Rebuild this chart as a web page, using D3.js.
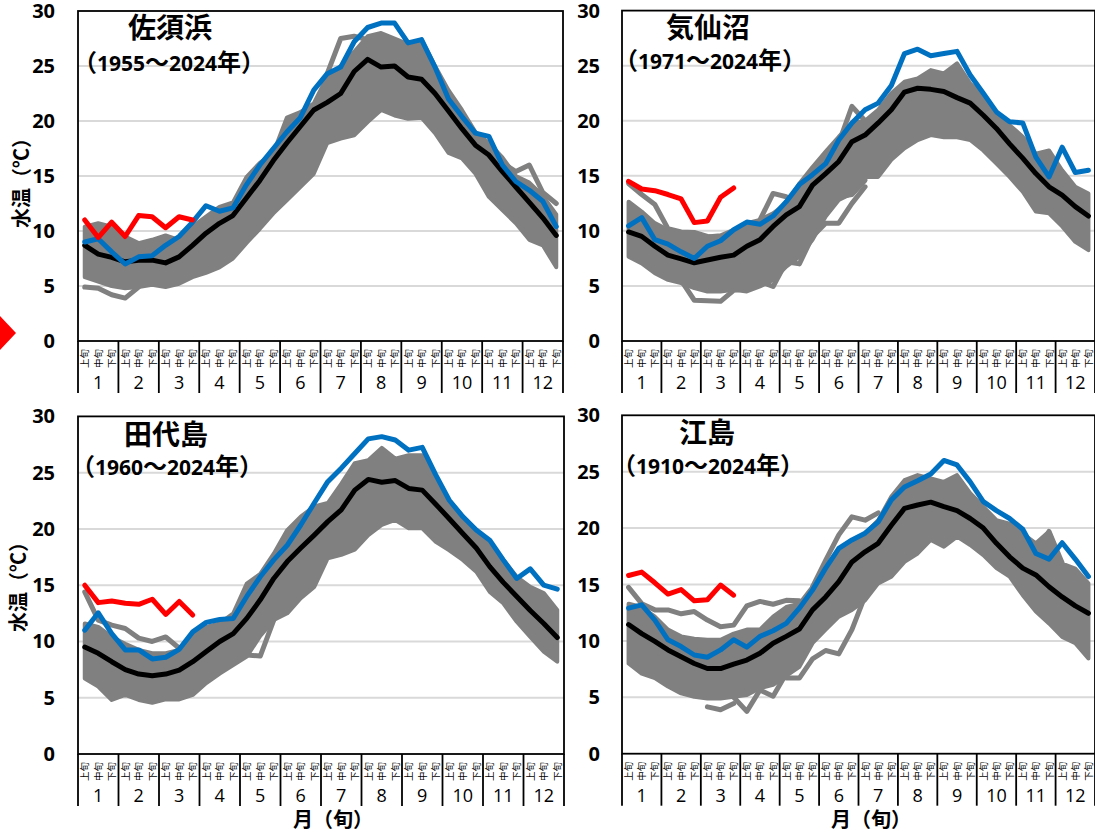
<!DOCTYPE html>
<html>
<head>
<meta charset="utf-8">
<script src="https://cdn.jsdelivr.net/npm/d3@7"></script>
<style>
  html, body { margin: 0; padding: 0; background: #fff; overflow: hidden; }
  svg { display: block; }
</style>
</head>
<body>
<script>
var months = ["1","2","3","4","5","6","7","8","9","10","11","12"];
var decades = ["上旬","中旬","下旬"];
var yTicks = [0,5,10,15,20,25,30];

// 佐須浜
var sasuYears = ["1955","2024"];
var sasuLatest = [9.0,9.3,8.1,7.0,7.65,7.75,8.7,9.5,10.8,12.3,11.8,12.1,14.2,16,17.5,19,20.3,22.8,24.3,24.9,27.2,28.5,28.9,28.9,27.1,27.4,24.9,22,20.4,18.9,18.6,16,14.5,13.7,12.7,10.4];
var sasuMean = [8.7,7.9,7.6,7.2,7.35,7.35,7.1,7.65,8.7,9.8,10.7,11.4,13,14.6,16.4,18,19.5,21,21.7,22.5,24.5,25.6,24.9,25,24,23.8,22.5,20.9,19.3,17.8,16.9,15.4,14,12.6,11.2,9.6];
var sasuNow = [11.0,9.4,10.8,9.5,11.4,11.3,10.3,11.3,11.0];
var sasuHigh = [10.4,10.7,10.4,9.5,8.9,9.2,9.6,9.2,10.4,11.3,12.2,12.6,14.9,16.2,17.1,20.3,20.8,21.6,24,25,26.3,27.7,28,27.5,27,27.4,25,22.8,21,19,18,16.7,15,14.4,13.2,11.5];
var sasuLow = [5.8,5.4,5,4.8,4.9,5.1,4.9,5.2,5.8,6.2,6.7,7.5,8.9,10.2,11.6,12.8,14,15.2,18,18.4,18.7,19.9,21,20.5,20.2,20.3,18.9,17.1,16.6,15.2,13.1,11.9,10.7,9.2,8.7,6.7];
var sasuOdd = [[0,[4.9,4.8,4.2,3.9,4.9]],[18,[24.3,27.5,27.7,27.4]],[31,[16.2,15.4,16,13.5,12.5]]];

// 気仙沼
var kesenYears = ["1971","2024"];
var kesenLatest = [10.45,11.2,9.2,8.8,8.1,7.5,8.6,9.1,10.1,10.8,10.6,11.35,12.65,14.2,15.1,16.1,18.25,19.8,21,21.6,23.2,26.1,26.5,25.9,26.1,26.3,24.15,22.5,20.8,19.9,19.8,16.7,14.9,17.6,15.3,15.5];
var kesenMean = [9.9,9.5,8.6,7.8,7.45,7.1,7.35,7.6,7.8,8.6,9.2,10.4,11.45,12.2,14.15,15.2,16.3,18.1,18.7,19.8,21,22.6,22.95,22.85,22.65,22.1,21.6,20.5,19.3,17.9,16.6,15.2,14,13.25,12.2,11.35];
var kesenNow = [14.5,13.8,13.65,13.3,12.9,10.75,10.9,13.05,13.9];
var kesenHigh = [12.65,11.75,10.7,10.1,9.8,9.6,9.5,9.6,10.1,10.7,11,11.6,12.5,14.3,15.8,17.2,18.55,19.8,20,21,22.5,23.55,23.85,24.6,24.3,25.2,23.4,22.2,20.7,19.6,18.55,17,17.3,15.5,14,13.4];
var kesenLow = [7.65,7.05,6.15,5.55,5.25,4.8,4.5,4.5,4.65,4.5,4.95,5.55,6.75,7.65,9.2,11.3,12.8,13.4,14.9,14.9,16.45,17.5,18.25,18.7,18.5,18.5,18.25,17.3,16.1,14.9,13.55,11.75,11.6,10.4,9,8.25];
var kesenOdd = [[0,[14.3,13.3,12.4,10.2,9.9,9.85,9.5,9.3]],[4,[5.5,3.7,3.65,3.6,4.6,4.75]],[10,[11,13.4,13.1,12.2]],[10,[5.4,4.95,7.2,7.0,9.5,10.7,10.7,12.5,14]],[13,[8.3,10.7,12.5,13.1,13.3,14.6]],[16,[18,21.3,20]]];

// 田代島
var tashiroYears = ["1960","2024"];
var tashiroLatest = [11.0,12.55,10.7,9.25,9.25,8.45,8.6,9.3,10.85,11.7,11.95,12.05,14,15.75,17.25,18.55,20.35,22.3,24.2,25.4,26.7,28,28.2,27.9,27,27.25,24.8,22.55,21.1,19.9,19,17.25,15.6,16.45,15,14.65];
var tashiroMean = [9.5,8.95,8.2,7.5,7.1,6.95,7.1,7.45,8.2,9.1,10,10.7,12.05,13.7,15.6,17.1,18.3,19.45,20.65,21.7,23.45,24.4,24.15,24.3,23.6,23.45,22.2,20.9,19.6,18.3,16.65,15.25,14,12.75,11.6,10.35];
var tashiroNow = [15,13.45,13.6,13.4,13.3,13.75,12.4,13.55,12.35];
var tashiroHigh = [11.6,11.3,10.4,9.8,9.25,8.95,8.95,9.25,10.55,11.3,11.6,12.5,15.15,16,17.8,19.9,21.1,22,22.3,24,25.85,26.1,27.2,26.25,26.55,26.55,24.35,22.55,21.1,19.9,18.7,17.25,15.75,14.85,14.3,12.8];
var tashiroLow = [6.7,6,4.8,5.25,4.8,4.55,4.85,4.85,5.25,6.3,7.15,7.9,8.65,10.5,11.9,12.5,13.85,14.85,17.4,17.7,18.15,19.45,20.35,20.8,20.05,20.05,18.85,18.1,17.25,16.2,14.4,13.4,11.75,10.4,9.1,8.2];
var tashiroOdd = [[0,[14.4,11.9,11.45,11.15,10.3,10,10.4,9.4]],[11,[8.9,8.8,8.7,11.9]]];

// 江島
var eshimaYears = ["1910","2024"];
var eshimaLatest = [12.9,13.2,11.85,10.1,9.5,8.75,8.55,9.2,10.1,9.45,10.4,10.9,11.55,12.9,14.5,16.45,18.2,18.95,19.55,20.55,22.5,23.65,24.2,24.8,26,25.6,24.1,22.35,21.55,20.85,19.9,17.75,17.25,18.7,17.25,15.7];
var eshimaMean = [11.45,10.65,9.95,9.2,8.6,8,7.55,7.55,7.95,8.3,8.9,9.8,10.4,11.05,12.75,13.9,15.25,17,17.9,18.65,20.25,21.75,22.05,22.3,21.9,21.55,20.85,20,18.65,17.45,16.45,15.85,14.8,13.9,13.1,12.45];
var eshimaNow = [15.8,16.1,15.15,14.15,14.55,13.55,13.65,14.95,14.05];
var eshimaHigh = [13.3,13,12.15,11,10.4,10.2,10.1,10.1,10.65,11,11,12.15,13,13.3,14.8,16.3,18,18.9,19.5,20.7,22.8,24.25,24.7,24.4,24.1,24.7,23.1,21.9,20.7,20.4,19.5,18.65,19.7,16.85,16.4,15.1];
var eshimaLow = [8,7.1,6.7,5.95,5.35,5.05,4.9,4.9,5.05,5.2,5.8,6.1,6.9,7.7,9.8,11,12.15,12.75,13.6,15.1,15.7,17,17.75,18.95,18.35,19.25,18.5,17.6,16.45,15.7,14.05,12.6,11.55,10.35,9.8,8.45];
var eshimaOdd = [[0,[14.75,13.3,12.75,12.75,12.4,12.6,11.85,11.25,11.4,13.1,13.5,13.25,13.6,13.55]],[14,[14.8,17.15,19.4,21,20.7,21.35]],[6,[4.15,3.9,4.45]],[8,[5,3.75,5.65,5.1,7.1]],[12,[6.7,6.7,8.4,9.15,8.85,11,14]],[30,[18,17.5,19.7,16.9]]];

var panels = [
  {title:"佐須浜", years:sasuYears, latest:sasuLatest, mean:sasuMean, now:sasuNow, high:sasuHigh, low:sasuLow, odd:sasuOdd,
   left:78, right:563, top:11, bottom:341, labelX:55, titleX:170, titleY:38, subX:73, subY:71, yTitle:[22,178]},
  {title:"気仙沼", years:kesenYears, latest:kesenLatest, mean:kesenMean, now:kesenNow, high:kesenHigh, low:kesenLow, odd:kesenOdd,
   left:622, right:1095, top:10.6, bottom:341, labelX:600, titleX:708, titleY:38, subX:614, subY:69},
  {title:"田代島", years:tashiroYears, latest:tashiroLatest, mean:tashiroMean, now:tashiroNow, high:tashiroHigh, low:tashiroLow, odd:tashiroOdd,
   left:78, right:564, top:416.4, bottom:754, labelX:55, titleX:166, titleY:445, subX:71, subY:475, yTitle:[19,582]},
  {title:"江島", years:eshimaYears, latest:eshimaLatest, mean:eshimaMean, now:eshimaNow, high:eshimaHigh, low:eshimaLow, odd:eshimaOdd,
   left:622, right:1095, top:415.3, bottom:753.7, labelX:600, titleX:707, titleY:443, subX:612, subY:474}
];

var svg = d3.select("body")
            .append("svg")
            .attr("width",1095)
            .attr("height",832);

var cjk = "'Noto Sans CJK JP', sans-serif";
var latin = "'Open Sans', sans-serif";

// the red marker cut off by the left edge
svg.append("polygon")
   .attr("points","-16,333 0,316 16,333 0,350")
   .attr("fill","#ff0000");

panels.forEach(function(p){
  var index = d3.range(36);
  var x = d3.scaleBand().domain(index).range([p.left,p.right]);
  var y = d3.scaleLinear().domain([0,30]).range([p.bottom,p.top]);
  var px = function(i){return x(i)+x.bandwidth()/2;};
  var g = svg.append("g");

  // grid
  g.selectAll(".grid").data(yTicks.slice(1,6)).enter()
   .append("line")
   .attr("x1",p.left).attr("x2",p.right)
   .attr("y1",function(d){return y(d);})
   .attr("y2",function(d){return y(d);})
   .attr("stroke","#d9d9d9")
   .attr("stroke-width",2);

  var line = d3.line()
               .x(function(d,i){return px(i);})
               .y(function(d){return y(d);});

  var band = d3.area()
               .x(function(d){return px(d);})
               .y0(function(d){return y(p.low[d]);})
               .y1(function(d){return y(p.high[d]);});

  g.append("path")
   .attr("d",band(index))
   .attr("fill","#808080")
   .attr("stroke","#808080")
   .attr("stroke-width",4)
   .attr("stroke-linejoin","round");

  // single years that leave the band
  p.odd.forEach(function(o){
    var oddLine = d3.line()
                    .x(function(d,i){return px(o[0]+i);})
                    .y(function(d){return y(d);});
    g.append("path")
     .attr("d",oddLine(o[1]))
     .attr("fill","none")
     .attr("stroke","#808080")
     .attr("stroke-width",5)
     .attr("stroke-linejoin","round")
     .attr("stroke-linecap","round");
  });

  [[p.mean,"#000000"],[p.latest,"#0070c0"],[p.now,"#ff0000"]].forEach(function(s){
    g.append("path")
     .attr("d",line(s[0]))
     .attr("fill","none")
     .attr("stroke",s[1])
     .attr("stroke-width",5)
     .attr("stroke-linejoin","round")
     .attr("stroke-linecap","round");
  });

  // frame
  g.append("rect")
   .attr("x",p.left).attr("y",p.top)
   .attr("width",p.right-p.left).attr("height",p.bottom-p.top)
   .attr("fill","none")
   .attr("stroke","#000")
   .attr("stroke-width",1.8);

  // y labels
  g.selectAll(".ylab").data(yTicks).enter()
   .append("text")
   .attr("x",p.labelX)
   .attr("y",function(d){return y(d)+7;})
   .attr("text-anchor","end")
   .style("font-family",latin)
   .style("font-weight","bold")
   .style("font-size","20px")
   .text(function(d){return d;});

  // month separators
  var step = x.bandwidth()*3;
  g.selectAll(".sep").data(d3.range(13)).enter()
   .append("line")
   .attr("x1",function(d){return p.left+d*step;})
   .attr("x2",function(d){return p.left+d*step;})
   .attr("y1",p.bottom)
   .attr("y2",p.bottom+52)
   .attr("stroke","#000")
   .attr("stroke-width",1.8);

  // decade labels
  g.selectAll(".dec").data(index).enter()
   .append("text")
   .attr("transform",function(d){return "translate("+(px(d)+3.5)+","+(p.bottom+27)+") rotate(-90)";})
   .style("font-family",cjk)
   .style("font-size","9.5px")
   .style("opacity",0.99)
   .text(function(d){return decades[d%3];});

  // month labels
  g.selectAll(".mon").data(months).enter()
   .append("text")
   .attr("x",function(d,i){return p.left+(i+0.5)*step;})
   .attr("y",p.bottom+48)
   .attr("text-anchor","middle")
   .style("font-family",latin)
   .style("font-size","18px")
   .text(function(d){return d;});

  // title
  g.append("text")
   .attr("x",p.titleX).attr("y",p.titleY)
   .attr("text-anchor","middle")
   .style("font-family",cjk)
   .style("font-weight","700")
   .style("font-size","28px")
   .text(p.title);

  // period
  var sub = g.append("text")
             .attr("x",p.subX).attr("y",p.subY)
             .style("font-weight","bold");
  [["（",cjk,24],[p.years[0],latin,21],["～",cjk,24],[p.years[1],latin,21],["年）",cjk,24]].forEach(function(t){
    sub.append("tspan")
       .style("font-family",t[1])
       .style("font-size",t[2]+"px")
       .text(t[0]);
  });

  if (p.yTitle) {
    g.append("text")
     .attr("transform","translate("+p.yTitle[0]+","+p.yTitle[1]+") rotate(-90)")
     .attr("text-anchor","middle")
     .attr("dy","0.35em")
     .style("font-family",cjk)
     .style("font-weight","bold")
     .style("font-size","20px")
     .text("水温（℃）");
  }
});

// x axis titles under the lower panels
svg.selectAll(".xtitle").data([333,871]).enter()
   .append("text")
   .attr("x",function(d){return d;})
   .attr("y",827)
   .attr("text-anchor","middle")
   .style("font-family",cjk)
   .style("font-weight","bold")
   .style("font-size","20px")
   .text("月（旬）");
</script>
</body>
</html>
